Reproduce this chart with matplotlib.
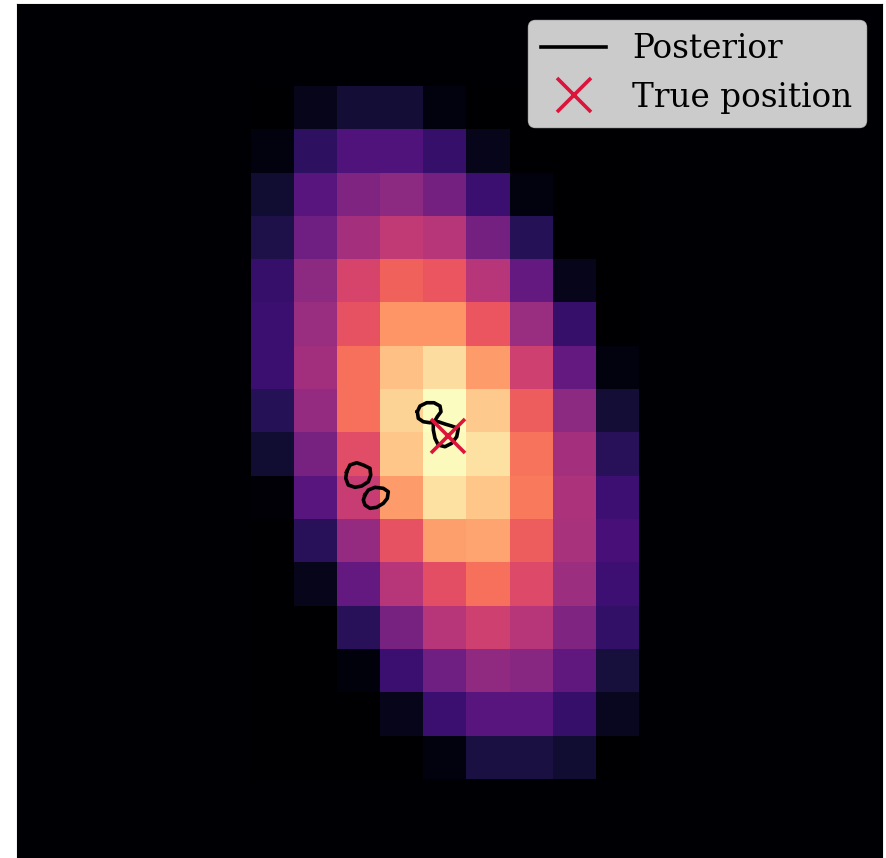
import matplotlib
matplotlib.use("Agg")
import matplotlib.pyplot as plt
import numpy as np

plt.rcParams['font.family'] = ['DejaVu Serif']

# posterior grid (normalised), rows top -> bottom, 9 columns
posterior = np.array([
    [0.00, 0.05, 0.10, 0.10, 0.03, 0.00, 0.00, 0.00, 0.00],
    [0.03, 0.17, 0.25, 0.25, 0.19, 0.05, 0.00, 0.00, 0.00],
    [0.09, 0.27, 0.37, 0.40, 0.34, 0.20, 0.03, 0.00, 0.00],
    [0.13, 0.33, 0.46, 0.53, 0.50, 0.34, 0.15, 0.00, 0.00],
    [0.19, 0.40, 0.58, 0.67, 0.64, 0.50, 0.30, 0.05, 0.00],
    [0.20, 0.43, 0.63, 0.78, 0.78, 0.64, 0.43, 0.19, 0.00],
    [0.20, 0.45, 0.70, 0.87, 0.93, 0.79, 0.56, 0.30, 0.03],
    [0.15, 0.42, 0.70, 0.91, 1.00, 0.89, 0.66, 0.40, 0.10],
    [0.09, 0.35, 0.61, 0.88, 0.99, 0.94, 0.71, 0.46, 0.16],
    [0.01, 0.27, 0.54, 0.79, 0.94, 0.88, 0.72, 0.48, 0.21],
    [0.00, 0.16, 0.42, 0.63, 0.80, 0.81, 0.66, 0.47, 0.23],
    [0.00, 0.05, 0.30, 0.50, 0.62, 0.70, 0.60, 0.44, 0.21],
    [0.00, 0.00, 0.16, 0.35, 0.50, 0.56, 0.50, 0.37, 0.18],
    [0.00, 0.00, 0.02, 0.20, 0.33, 0.41, 0.39, 0.29, 0.11],
    [0.00, 0.00, 0.00, 0.05, 0.20, 0.27, 0.27, 0.19, 0.06],
    [0.00, 0.00, 0.00, 0.00, 0.03, 0.12, 0.12, 0.09, 0.00],
])

# posterior contour outlines (grid units)
blob_a_x = [3.865, 3.927, 4.083, 4.252, 4.391, 4.414, 4.328, 4.275, 4.159, 4.004, 3.888]
blob_a_y = [7.507, 7.376, 7.300, 7.300, 7.376, 7.507, 7.623, 7.715, 7.762, 7.739, 7.660]
blob_b_x = [4.236, 4.352, 4.507, 4.662, 4.816, 4.779, 4.662, 4.507, 4.352, 4.275, 4.236]
blob_b_y = [7.775, 7.739, 7.792, 7.838, 7.891, 8.085, 8.237, 8.316, 8.277, 8.122, 7.930]
blob_c_x = [2.227, 2.303, 2.459, 2.612, 2.767, 2.784, 2.728, 2.575, 2.419, 2.264, 2.204]
blob_c_y = [8.894, 8.739, 8.686, 8.739, 8.815, 8.970, 9.125, 9.224, 9.254, 9.201, 9.046]
blob_d_x = [2.651, 2.728, 2.883, 3.076, 3.192, 3.169, 3.076, 2.923, 2.767, 2.651, 2.612]
blob_d_y = [9.432, 9.316, 9.254, 9.277, 9.355, 9.508, 9.624, 9.716, 9.739, 9.663, 9.547]
blobs = [(blob_a_x, blob_a_y), (blob_b_x, blob_b_y),
         (blob_c_x, blob_c_y), (blob_d_x, blob_d_y)]

true_pos = (4.577, 8.07)

fig = plt.figure(figsize=(8.87, 8.58), dpi=100)
ax = fig.add_axes([17 / 887, 1 - 869 / 858, 865 / 887, 865 / 858])

cmap = plt.get_cmap('magma')
ax.set_facecolor(cmap(0.0))
nrows, ncols = posterior.shape
ax.imshow(posterior, cmap=cmap, vmin=0, vmax=1, interpolation='nearest',
          extent=[0, ncols, nrows, 0], aspect='auto')

for i, (bx, by) in enumerate(blobs):
    ax.plot(bx + bx[:1], by + by[:1], color='black', lw=2.6,
            solid_joinstyle='round', label='Posterior' if i == 0 else None)

ax.plot(true_pos[0], true_pos[1], 'x', color='crimson', ms=24, mew=2.6,
        ls='none', label='True position')

ax.set_xlim(-5.421, 14.644)
ax.set_ylim(18.07, -1.910)
ax.set_xticks([])
ax.set_yticks([])

ax.legend(loc='upper right', fontsize=23.5)

fig.savefig('out.png', dpi=100)
